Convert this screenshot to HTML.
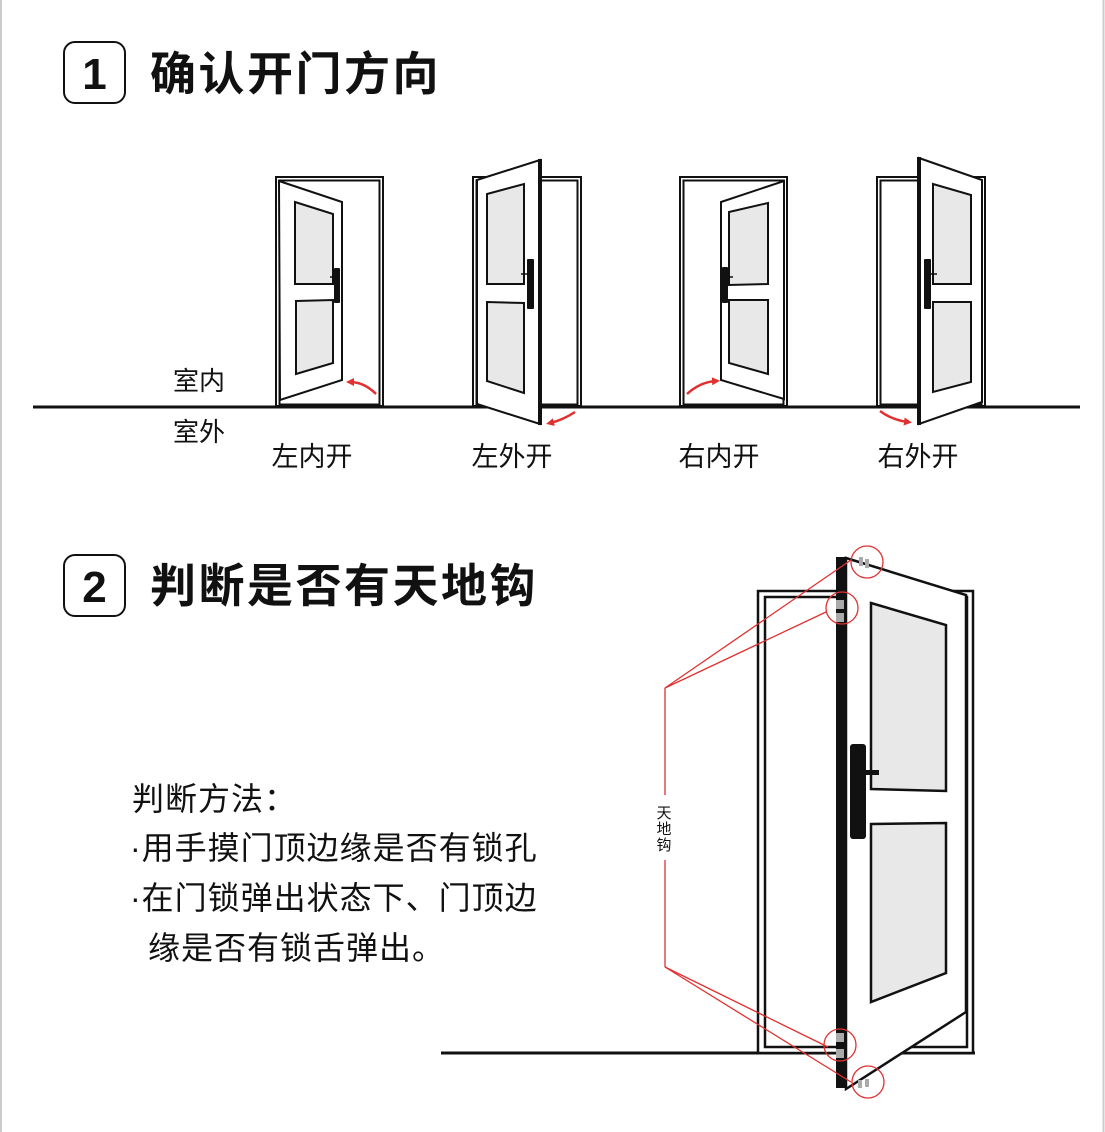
<!DOCTYPE html>
<html><head><meta charset="utf-8"><style>
html,body{margin:0;padding:0;background:#fff;}
body{width:1105px;height:1132px;overflow:hidden;}
svg{display:block;}
text{font-family:"Liberation Sans","Noto Sans CJK SC",sans-serif;fill:#111;}
</style></head><body>
<svg width="1105" height="1132" viewBox="0 0 1105 1132" xmlns="http://www.w3.org/2000/svg">
<defs>
<marker id="ah" markerWidth="8" markerHeight="8" refX="4" refY="4" orient="auto" markerUnits="userSpaceOnUse">
<path d="M0,0 L8,4 L0,8 Z" fill="#e03030"/>
</marker>
</defs>
<rect x="0" y="0" width="1105" height="1132" fill="#fff"/>
<line x1="1" y1="0" x2="1" y2="1132" stroke="#ccc" stroke-width="2"/>
<line x1="1103.5" y1="0" x2="1103.5" y2="1132" stroke="#ccc" stroke-width="2"/>

<rect x="64" y="42" width="61" height="61" rx="11" fill="none" stroke="#111" stroke-width="2"/>
<text x="94.5" y="89" font-size="44" font-weight="bold" text-anchor="middle">1</text>
<text x="150" y="90" font-size="46" font-weight="bold" letter-spacing="2.5">确认开门方向</text>

<line x1="33" y1="407" x2="1080" y2="407" stroke="#111" stroke-width="3"/>
<text x="173" y="390" font-size="26">室内</text>
<text x="173" y="441" font-size="26">室外</text>
<text x="312" y="466" font-size="27" text-anchor="middle">左内开</text>
<text x="512" y="466" font-size="27" text-anchor="middle">左外开</text>
<text x="719" y="466" font-size="27" text-anchor="middle">右内开</text>
<text x="918" y="466" font-size="27" text-anchor="middle">右外开</text>

<g stroke="#111" stroke-width="2" fill="none">
<rect x="276" y="177" width="107" height="229"/>
<rect x="279.5" y="180.5" width="100" height="224"/>
<polygon points="279,181 342,202 342,380 280,400" fill="#fff"/>
<polygon points="295,202 333,214 333,284 295,284" fill="#e8e8e8"/>
<polygon points="296,301 333,300 333,363 296,374" fill="#e8e8e8"/>
<rect x="473" y="177" width="108" height="229"/>
<rect x="476.5" y="180.5" width="101" height="224"/>
<polygon points="477,180 540,160 540,424 477,404" fill="#fff"/>
<polygon points="487,194 524,184 524,284 487,284" fill="#e8e8e8"/>
<polygon points="487,302 524,303 524,393 487,381" fill="#e8e8e8"/>
<rect x="680" y="177" width="107" height="229"/>
<rect x="683.5" y="180.5" width="100" height="224"/>
<polygon points="721,202 784,181 784,399 721,380" fill="#fff"/>
<polygon points="729,212 768,203 768,284 729,285" fill="#e8e8e8"/>
<polygon points="729,300 768,300 768,374 729,363" fill="#e8e8e8"/>
<rect x="877" y="177" width="108" height="229"/>
<rect x="880.5" y="180.5" width="101" height="224"/>
<polygon points="919,158 982,180 982,402 919,424" fill="#fff"/>
<polygon points="933,184 971,195 971,284 933,284" fill="#e8e8e8"/>
<polygon points="933,302 971,302 971,382 933,392" fill="#e8e8e8"/>
</g>
<rect x="538" y="159" width="4" height="266" fill="#111"/>
<rect x="917" y="157" width="4" height="268" fill="#111"/>
<rect x="334" y="268" width="6" height="35" rx="1" fill="#111"/>
<line x1="330" y1="277" x2="336" y2="277" stroke="#111" stroke-width="1.5"/>
<rect x="527" y="259" width="7" height="50" rx="1" fill="#111"/>
<line x1="521" y1="274" x2="529" y2="274" stroke="#111" stroke-width="1.5"/>
<rect x="722" y="267" width="6" height="36" rx="1" fill="#111"/>
<line x1="726" y1="277" x2="733" y2="277" stroke="#111" stroke-width="1.5"/>
<rect x="924" y="259" width="7" height="50" rx="1" fill="#111"/>
<line x1="929" y1="274" x2="937" y2="274" stroke="#111" stroke-width="1.5"/>
<g stroke="#e03030" stroke-width="2.5" fill="none" marker-end="url(#ah)">
<path d="M376,394 Q364,382 350,382"/>
<path d="M575,412 Q563,420 550,423"/>
<path d="M687,394 Q700,382 716,381"/>
<path d="M880,411 Q892,420 908,422"/>
</g>

<rect x="64" y="555" width="61" height="61" rx="11" fill="none" stroke="#111" stroke-width="2"/>
<text x="94.5" y="602" font-size="44" font-weight="bold" text-anchor="middle">2</text>
<text x="150" y="602" font-size="46" font-weight="bold" letter-spacing="2.5">判断是否有天地钩</text>

<text x="132" y="810" font-size="32" letter-spacing="1">判断方法：</text>
<text x="130" y="859" font-size="32" letter-spacing="1">·用手摸门顶边缘是否有锁孔</text>
<text x="130" y="909" font-size="32" letter-spacing="1">·在门锁弹出状态下、门顶边</text>
<text x="148" y="959" font-size="32" letter-spacing="1">缘是否有锁舌弹出。</text>

<line x1="441" y1="1053" x2="975" y2="1053" stroke="#111" stroke-width="3"/>
<g stroke="#111" stroke-width="2.5" fill="none">
<rect x="758" y="591" width="215" height="462" fill="#fff"/>
<rect x="765" y="597" width="202" height="450"/>
<polygon points="846,558 966,595 966,1012 846,1089" fill="#fff"/>
<polygon points="871,603 946,625 946,791 871,789" fill="#e8e8e8"/>
<polygon points="871,824 946,823 946,973 871,1002" fill="#e8e8e8"/>
</g>
<rect x="836" y="557" width="10" height="531" fill="#111"/>
<rect x="850" y="744" width="16" height="95" rx="3" fill="#111"/>
<rect x="864" y="770" width="15" height="5" fill="#111"/>
<g fill="#aaa">
<rect x="859" y="557" width="4" height="9"/>
<rect x="865" y="559" width="4" height="9"/>
<rect x="836" y="600" width="8" height="9"/>
<rect x="836" y="613" width="8" height="9"/>
<rect x="836" y="1033" width="8" height="9"/>
<rect x="836" y="1049" width="8" height="9"/>
<rect x="858" y="1080" width="4" height="8"/>
<rect x="865" y="1079" width="4" height="8"/>
</g>
<g stroke="#e03030" stroke-width="1.3" fill="none">
<circle cx="867" cy="562" r="16"/>
<circle cx="842" cy="608" r="16"/>
<circle cx="840" cy="1045" r="16"/>
<circle cx="868" cy="1082" r="16"/>
<line x1="665" y1="688" x2="851" y2="560"/>
<line x1="665" y1="688" x2="826" y2="612"/>
<line x1="665" y1="688" x2="665" y2="795"/>
<line x1="665" y1="860" x2="665" y2="967"/>
<line x1="665" y1="967" x2="828" y2="1047"/>
<line x1="665" y1="967" x2="851" y2="1082"/>
</g>
<text x="664" y="818" font-size="15" text-anchor="middle">天</text>
<text x="664" y="834" font-size="15" text-anchor="middle">地</text>
<text x="664" y="850" font-size="15" text-anchor="middle">钩</text>
</svg>
</body></html>
